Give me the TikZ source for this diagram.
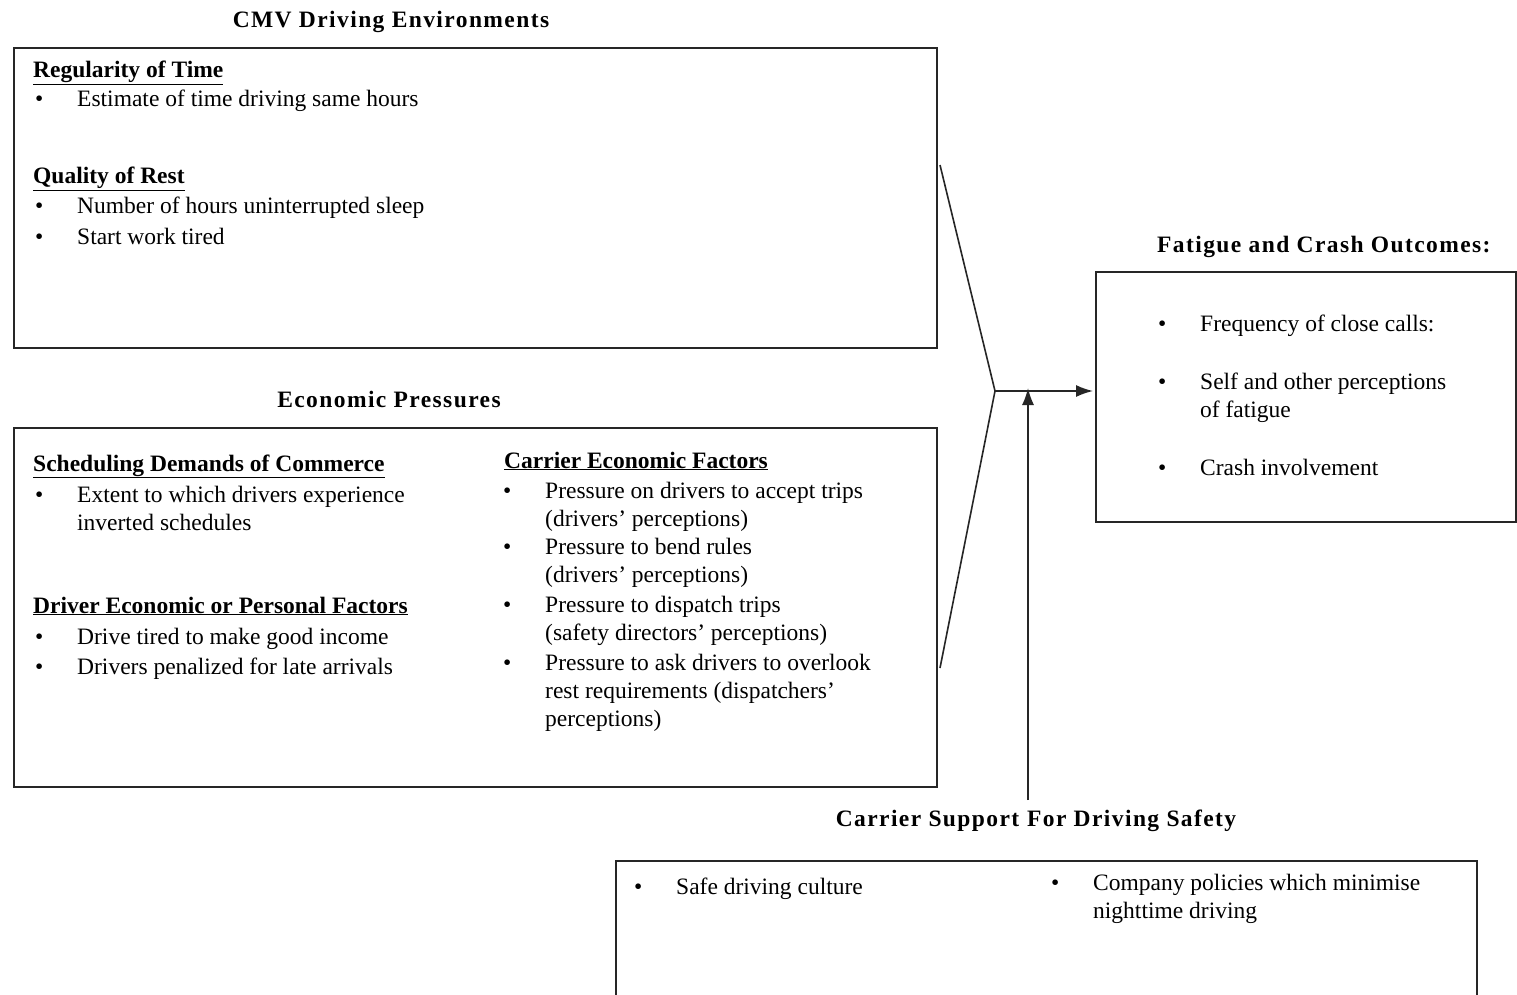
\documentclass[tikz,border=0pt]{standalone}
\usepackage{fontspec}
\setmainfont{Liberation Serif}
\newfontfamily\titlefont[LetterSpace=6]{Liberation Serif}
\usetikzlibrary{arrows.meta}
\tikzset{
 box/.style={draw=black!85, line width=2pt, anchor=north west, inner sep=0pt},
 txt/.style={anchor=base west, inner sep=0pt, yshift=-2pt, font=\fontsize{23.5}{28}\selectfont},
 head/.style={anchor=base west, inner sep=0pt, yshift=-2pt, font=\fontsize{23.5}{28}\selectfont\bfseries},
 ttl/.style={anchor=base, inner sep=0pt, yshift=-1pt, font=\titlefont\fontsize{23.5}{28}\selectfont\bfseries},
 conn/.style={draw=black!85, line width=1.6pt},
 arr/.style={conn, -{Latex[length=17pt,width=12pt]}},
}
\newcommand\bul[1]{\makebox[42pt][l]{\textbullet}\begin{tabular}[t]{@{}l@{}}#1\end{tabular}}
\begin{document}
\begin{tikzpicture}[x=1pt,y=-1pt]
\clip (0,0) rectangle (1517,995);
\fill[white] (0,0) rectangle (1517,995);

% boxes
\node[box, minimum width=923pt, minimum height=300pt] (env) at (13,47) {};
\node[box, minimum width=923pt, minimum height=359pt] (econ) at (13,427) {};
\node[box, minimum width=420pt, minimum height=250pt] (out) at (1095,271) {};
\node[box, minimum width=861pt, minimum height=160pt] (supp) at (615,860) {};

% titles
\node[ttl] (t1) at (391,27) {CMV Driving Environments};
\node[ttl] (t2) at (389,406) {Economic Pressures};
\node[ttl, anchor=base west] (t3) at (1157,251) {Fatigue and Crash Outcomes:};
\node[ttl] (t4) at (1036,825) {Carrier Support\,\,For Driving Safety};

% CMV driving environments
\node[head] (h1) at (33,76) {\underline{Regularity of Time}};
\node[txt] (i1) at (35,105) {\bul{Estimate of time driving same hours}};
\node[head] (h2) at (33,182) {\underline{Quality of Rest}};
\node[txt] (i2) at (35,212) {\bul{Number of hours uninterrupted sleep}};
\node[txt] (i3) at (35,242) {\bul{Start work tired}};

% Economic pressures, left column
\node[head] (h3) at (33,469) {\underline{Scheduling Demands of Commerce}};
\node[txt] (i4) at (35,500) {\bul{Extent to which drivers experience\\inverted schedules}};
\node[head] (h4) at (33,611) {\underline{Driver Economic or Personal Factors}};
\node[txt] (i5) at (35,642) {\bul{Drive tired to make good income}};
\node[txt] (i6) at (35,672) {\bul{Drivers penalized for late arrivals}};

% Economic pressures, right column
\node[head] (h5) at (504,466) {\underline{Carrier Economic Factors}};
\node[txt] (i7) at (503,496) {\bul{Pressure on drivers to accept trips\\(drivers' perceptions)}};
\node[txt] (i8) at (503,552) {\bul{Pressure to bend rules\\(drivers' perceptions)}};
\node[txt] (i9) at (503,610) {\bul{Pressure to dispatch trips\\(safety directors' perceptions)}};
\node[txt] (i10) at (503,668) {\bul{Pressure to ask drivers to overlook\\rest requirements (dispatchers'\\perceptions)}};

% Outcomes
\node[txt] (o1) at (1158,329) {\bul{Frequency of close calls:}};
\node[txt] (o2) at (1158,387) {\bul{Self and other perceptions\\of fatigue}};
\node[txt] (o3) at (1158,473) {\bul{Crash involvement}};

% Carrier support
\node[txt] (s1) at (634,892) {\bul{Safe driving culture}};
\node[txt] (s2) at (1051,888) {\bul{Company policies which minimise\\nighttime driving}};

% connectors
\coordinate (a1) at (940,165);
\coordinate (a2) at (940,668);
\coordinate (j) at (995,391);
\coordinate (s) at (1028,800);
\draw[conn] (a1) -- (j) -- (a2);
\draw[arr] (j) -- ([xshift=-2pt]j -| out.west);
\draw[arr] (s) -- ([yshift=3pt]s |- j);
\end{tikzpicture}
\end{document}
